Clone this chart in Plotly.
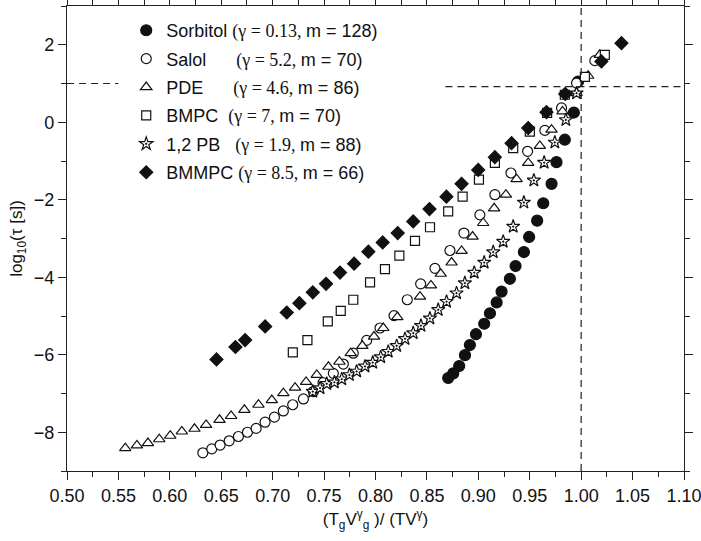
import plotly.graph_objects as go

# ---------------- data ----------------
sorbitol_x = [0.8707, 0.8756, 0.8814, 0.8870, 0.8918, 0.8977, 0.9057, 0.9113, 0.9178, 0.9226,
              0.9307, 0.9362, 0.9443, 0.9494, 0.9572, 0.9631, 0.9712, 0.9760, 0.9841, 0.9929, 0.9970]
sorbitol_y = [-6.60, -6.48, -6.29, -6.01, -5.75, -5.47, -5.20, -4.93, -4.65, -4.37,
              -4.04, -3.71, -3.35, -2.96, -2.54, -2.09, -1.59, -1.03, -0.45, 0.25, 1.05]

salol_x = [0.6321, 0.6408, 0.6489, 0.6577, 0.6667, 0.6755, 0.6839, 0.6926, 0.7017, 0.7104,
           0.7195, 0.7299, 0.7396, 0.7490, 0.7590, 0.7687, 0.7784, 0.7914, 0.8044, 0.8180,
           0.8309, 0.8439, 0.8578, 0.8724, 0.8860, 0.9015, 0.9161, 0.9317, 0.9479, 0.9647,
           0.9809, 0.9955, 1.0133]
salol_y = [-8.53, -8.43, -8.33, -8.22, -8.11, -8.00, -7.90, -7.74, -7.61, -7.45,
           -7.29, -7.14, -6.95, -6.72, -6.48, -6.24, -5.96, -5.63, -5.31, -4.99,
           -4.58, -4.17, -3.77, -3.31, -2.86, -2.39, -1.87, -1.31, -0.75, -0.21,
           0.37, 1.01, 1.59]

pde_x = [0.5567, 0.5680, 0.5787, 0.5897, 0.6004, 0.6117, 0.6240, 0.6353, 0.6483, 0.6596,
         0.6725, 0.6862, 0.6992, 0.7104, 0.7218, 0.7325, 0.7429, 0.7542, 0.7649, 0.7759,
         0.7872, 0.7986, 0.8076, 0.8212, 0.8433, 0.8539, 0.8634, 0.8740, 0.8837, 0.8944,
         0.9047, 0.9154, 0.9268, 0.9372, 0.9485, 0.9598, 0.9712, 0.9819, 0.9955, 1.0068, 1.0181]
pde_y = [-8.41, -8.34, -8.28, -8.18, -8.09, -7.98, -7.91, -7.81, -7.68, -7.58,
         -7.42, -7.29, -7.17, -6.99, -6.85, -6.70, -6.52, -6.31, -6.18, -5.96,
         -5.77, -5.53, -5.31, -5.03, -4.50, -4.21, -3.91, -3.62, -3.32, -2.95,
         -2.60, -2.22, -1.87, -1.47, -1.05, -0.61, -0.19, 0.28, 0.75, 1.20, 1.74]

bmpc_x = [0.7196, 0.7338, 0.7536, 0.7662, 0.7784, 0.7947, 0.8092, 0.8232, 0.8384, 0.8530,
          0.8707, 0.8847, 0.9006, 0.9161, 0.9339, 0.9501, 0.9669, 0.9841, 1.0036, 1.0230]
bmpc_y = [-5.94, -5.62, -5.14, -4.87, -4.58, -4.13, -3.79, -3.44, -3.06, -2.71,
          -2.30, -1.92, -1.48, -1.05, -0.67, -0.24, 0.24, 0.71, 1.17, 1.74]

pb_x = [0.7390, 0.7461, 0.7526, 0.7600, 0.7672, 0.7746, 0.7817, 0.7898, 0.7973, 0.8051,
        0.8124, 0.8206, 0.8287, 0.8367, 0.8442, 0.8529, 0.8610, 0.8691, 0.8788, 0.8869,
        0.8960, 0.9057, 0.9145, 0.9242, 0.9339, 0.9443, 0.9540, 0.9640, 0.9744, 0.9851, 0.9955]
pb_y = [-6.95, -6.86, -6.75, -6.71, -6.63, -6.52, -6.43, -6.30, -6.20, -6.06,
        -5.92, -5.77, -5.59, -5.44, -5.25, -5.06, -4.84, -4.63, -4.41, -4.15,
        -3.88, -3.62, -3.35, -3.08, -2.69, -2.07, -1.50, -1.04, -0.52, 0.06, 0.75]

bmmpc_x = [0.6454, 0.6638, 0.6732, 0.6927, 0.7137, 0.7260, 0.7390, 0.7519, 0.7655, 0.7792,
           0.7931, 0.8070, 0.8216, 0.8367, 0.8525, 0.8690, 0.8837, 0.8999, 0.9161, 0.9323,
           0.9485, 0.9663, 0.9845, 1.0197, 1.0392]
bmmpc_y = [-6.12, -5.80, -5.62, -5.27, -4.91, -4.67, -4.39, -4.17, -3.88, -3.65,
           -3.34, -3.10, -2.86, -2.56, -2.24, -1.92, -1.59, -1.23, -0.90, -0.54,
           -0.15, 0.26, 0.73, 1.57, 2.04]

x_ticks = [0.50, 0.55, 0.60, 0.65, 0.70, 0.75, 0.80, 0.85, 0.90, 0.95, 1.00, 1.05, 1.10]
x_tick_labels = ["0.50", "0.55", "0.60", "0.65", "0.70", "0.75", "0.80", "0.85",
                 "0.90", "0.95", "1.00", "1.05", "1.10"]
y_ticks = [2, 0, -2, -4, -6, -8]
y_tick_labels = ["2", "0", "\u22122", "\u22124", "\u22126", "\u22128"]

NB = "\u00a0"
SERIF = "Liberation Serif, Times New Roman, serif"


def lab(name, gap, g, m):
    return (name + NB * gap +
            '<span style="font-family:' + SERIF + '">(\u03b3 = ' + g + ', </span>m = ' + m + ')')


series = [
    (lab("Sorbitol", 1, "0.13", "128"), sorbitol_x, sorbitol_y, "circle", "#111111", 11),
    (lab("Salol", 6, "5.2", "70"), salol_x, salol_y, "circle", "white", 10),
    (lab("PDE", 6, "4.6", "86"), pde_x, pde_y, "triangle-up", "white", 10),
    (lab("BMPC", 2, "7", "70"), bmpc_x, bmpc_y, "square", "white", 9),
    (lab("1,2 PB", 3, "1.9", "88"), pb_x, pb_y, "star-dot", "white", 10),
    (lab("BMMPC", 1, "8.5", "66"), bmmpc_x, bmmpc_y, "diamond", "#111111", 10),
]

fig = go.Figure()
for i, (name, xs, ys, sym, col, sz) in enumerate(series):
    fig.add_trace(go.Scatter(
        x=xs, y=ys, mode="markers", name=name, legendgroup=str(i),
        marker=dict(symbol=sym, color=col, size=sz,
                    line=dict(color="#111111", width=1.2)),
    ))

dash = "7px,5px"
line_style = dict(color="#222222", width=1.2, dash=dash)
fig.add_shape(type="line", x0=0.50, x1=0.55, y0=1.0, y1=1.0, line=line_style)
fig.add_shape(type="line", x0=0.868, x1=1.10, y0=0.92, y1=0.92, line=line_style)
fig.add_shape(type="line", x0=1.0, x1=1.0, y0=-9, y1=3, line=line_style)

axis_common = dict(
    showgrid=False, zeroline=False, showline=True, linecolor="#222222", linewidth=1.3,
    mirror="allticks", ticks="outside", ticklen=8, tickwidth=1.3, tickcolor="#222222",
    tickfont=dict(size=18, color="#111111"), automargin=False, ticklabeloverflow="allow",
)

fig.update_layout(
    width=701, height=541,
    margin=dict(l=67, r=17, t=6, b=70, autoexpand=False),
    paper_bgcolor="white", plot_bgcolor="white",
    font=dict(family="Liberation Sans, Arial, sans-serif", color="#111111"),
    showlegend=True,
    legend=dict(x=0.096, y=0.987, xanchor="left", yanchor="top",
                bgcolor="rgba(0,0,0,0)", borderwidth=0,
                font=dict(size=18, color="#111111"),
                traceorder="grouped", tracegroupgap=2),
    xaxis=dict(range=[0.50, 1.10], tickvals=x_ticks, ticktext=x_tick_labels,
               minor=dict(dtick=0.025, tick0=0.5, ticks="outside", ticklen=5,
                          tickwidth=1.3, tickcolor="#222222"),
               title=dict(text="(T<sub>g</sub>V<sup>\u03b3</sup><sub>g</sub> )/ (TV<sup>\u03b3</sup>)",
                          font=dict(size=17), standoff=8),
               **axis_common),
    yaxis=dict(range=[-9, 3], tickvals=y_ticks, ticktext=y_tick_labels,
               minor=dict(dtick=1, tick0=1, ticks="outside", ticklen=5,
                          tickwidth=1.3, tickcolor="#222222"),
               title=dict(text="log<sub>10</sub>(\u03c4 [s])", font=dict(size=17), standoff=6),
               **axis_common),
)

fig.write_html("out.html")
